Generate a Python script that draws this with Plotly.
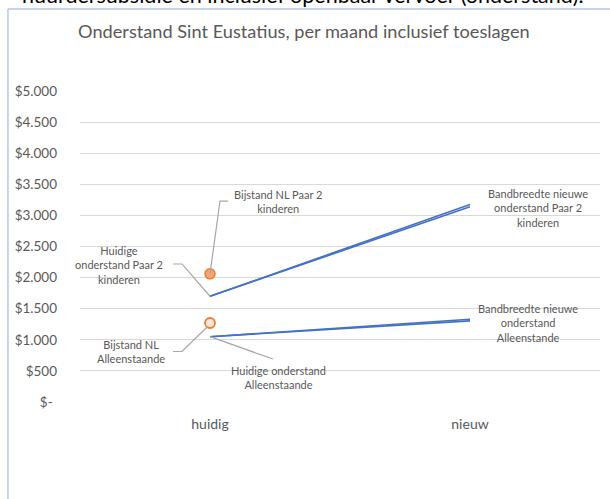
import plotly.graph_objects as go

categories = ["huidig", "nieuw"]
paar_low = [1700, 3140]
paar_high = [1700, 3175]
alleen_low = [1050, 1305]
alleen_high = [1050, 1330]
bijstand_paar = [2060]
bijstand_alleen = [1270]
y_ticks = [0, 500, 1000, 1500, 2000, 2500, 3000, 3500, 4000, 4500, 5000]
y_ticktext = ["$-\u00a0\u200a", "$500", "$1.000", "$1.500", "$2.000", "$2.500",
              "$3.000", "$3.500", "$4.000", "$4.500", "$5.000"]

xi = list(range(len(categories)))
FONT = "Lato"
GREY = "#595959"
BLUE = "#4472C4"
ORANGE = "#ED7D31"

fig = go.Figure()
for s in (paar_low, paar_high, alleen_low, alleen_high):
    fig.add_trace(go.Scatter(x=xi, y=s, mode="lines",
                             line=dict(color=BLUE, width=1.6), hoverinfo="skip"))
fig.add_trace(go.Scatter(x=[0], y=bijstand_paar, mode="markers",
                         marker=dict(size=10, color="rgba(242,160,112,0.95)",
                                     line=dict(color=ORANGE, width=1.5))))
fig.add_trace(go.Scatter(x=[0], y=bijstand_alleen, mode="markers",
                         marker=dict(size=10, color="#FBE5D6",
                                     line=dict(color=ORANGE, width=1.8))))

# leader lines
leader = dict(color="#A6A6A6", width=1.2)
def path(pts):
    return "M " + " L ".join(f"{x},{y}" for x, y in pts)
fig.add_shape(type="path", xref="x", yref="y", line=leader,
              path=path([(0, bijstand_paar[0]), (0.0385, 3231), (0.069, 3231)]))
fig.add_shape(type="path", xref="x", yref="y", line=leader,
              path=path([(-0.1423, 2219), (-0.1077, 2219), (0, paar_low[0])]))
fig.add_shape(type="path", xref="x", yref="y", line=leader,
              path=path([(-0.1423, 812), (-0.1077, 812), (-0.01, 1210)]))
fig.add_shape(type="path", xref="x", yref="y", line=leader,
              path=path([(0, alleen_low[0]), (0.2423, 691)]))

afont = dict(family=FONT, size=11, color=GREY)
labels = [
    (0.2615, 3223, "Bijstand NL Paar 2<br>kinderen"),
    (-0.35, 2203, "Huidige<br>onderstand Paar 2<br>kinderen"),
    (-0.304, 812, "Bijstand NL<br>Alleenstaande"),
    (0.265, 386, "Huidige onderstand<br>Alleenstaande"),
    (1.2615, 3119, "Bandbreedte nieuwe<br>onderstand Paar 2<br>kinderen"),
    (1.223, 1270, "Bandbreedte nieuwe<br>onderstand<br>Alleenstande"),
]
for x, y, t in labels:
    fig.add_annotation(x=x, y=y, xref="x", yref="y", text=t, showarrow=False,
                       font=afont, align="center", xanchor="center", yanchor="middle")

# chart frame
fig.add_shape(type="rect", xref="paper", yref="paper",
              x0=-0.1385, x1=1.1, y0=-0.5, y1=1.2637,
              line=dict(color="#8EAADB", width=1), layer="below")

# title
fig.add_annotation(xref="paper", yref="paper", x=0.431, y=1.193, xanchor="center",
                   yanchor="middle", showarrow=False,
                   text="Onderstand Sint Eustatius, per maand inclusief toeslagen",
                   font=dict(family=FONT, size=18.2, color=GREY))
# partially visible text above the chart
fig.add_annotation(xref="paper", yref="paper", x=0.428, y=1.309, xanchor="center",
                   yanchor="middle", showarrow=False,
                   text="huurdersubsidie en inclusief openbaar vervoer (onderstand).",
                   font=dict(family=FONT, size=21.5, color="#000000"))

fig.update_layout(
    width=610, height=499,
    margin=dict(l=80, r=10, t=91, b=97),
    paper_bgcolor="white", plot_bgcolor="white",
    showlegend=False,
    xaxis=dict(range=[-0.5, 1.5], tickvals=xi, ticktext=categories,
               showgrid=False, zeroline=False, showline=False,
               tickfont=dict(family=FONT, size=14, color=GREY), ticks="",
               ticklabelstandoff=12),
    yaxis=dict(range=[0, 5000], tickvals=y_ticks, ticktext=y_ticktext,
               showgrid=True, gridcolor="#D9D9D9", gridwidth=1.3,
               zeroline=False, showline=False, ticks="",
               tickfont=dict(family=FONT, size=13.5, color=GREY),
               ticklabelstandoff=22),
)
fig.write_html("out.html", config={"displayModeBar": False},
               post_script="document.body.style.margin='0px';")
